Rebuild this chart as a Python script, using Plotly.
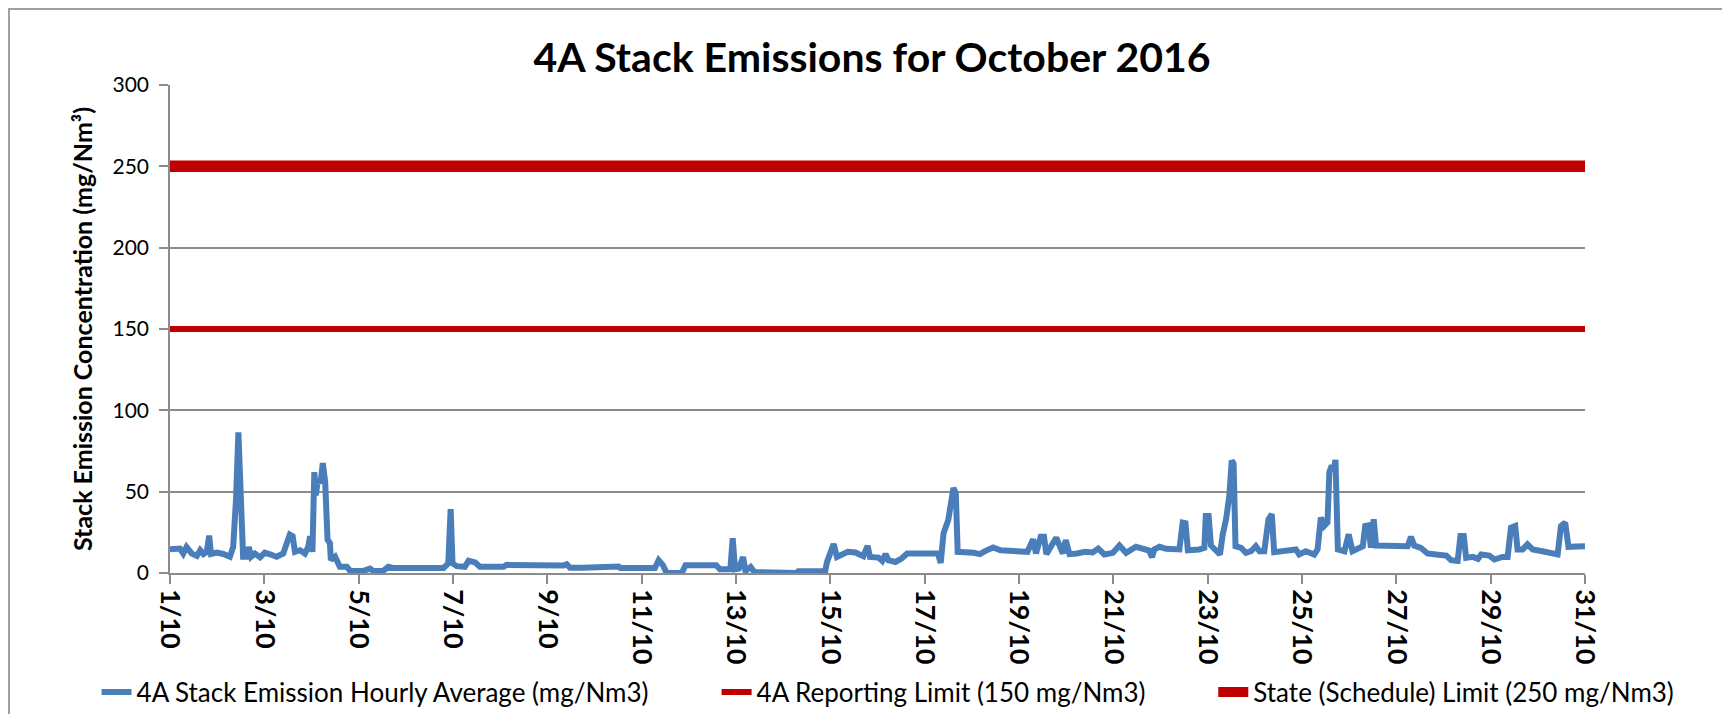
import datetime as dt
import plotly.graph_objects as go

# ---------------- data ----------------
start_date = dt.datetime(2016, 10, 1)

# time of each reading, in days after 1/10 00:00
day_offsets = [
    0.00, 0.21, 0.28, 0.35, 0.46, 0.57, 0.64, 0.71, 0.78, 0.83, 0.87, 0.99, 1.13, 1.27, 1.34,
    1.40, 1.45, 1.50, 1.55, 1.63, 1.67, 1.72, 1.80, 1.91, 2.01, 2.12, 2.26, 2.40, 2.49, 2.54,
    2.60, 2.65, 2.76, 2.86, 2.93, 2.97, 3.02, 3.06, 3.09, 3.14, 3.19, 3.24, 3.29, 3.34, 3.39,
    3.41, 3.50, 3.53, 3.60, 3.75, 3.82, 4.10, 4.24, 4.31, 4.52, 4.63, 4.73, 5.80, 5.90, 5.95,
    5.99, 6.08, 6.25, 6.33, 6.47, 6.57, 7.07, 7.14, 7.63, 7.70, 7.88, 7.95, 8.34, 8.41, 8.48,
    8.76, 9.51, 9.55, 10.28, 10.36, 10.45, 10.53, 10.85, 10.93, 11.58, 11.66, 11.88, 11.93,
    11.98, 12.06, 12.15, 12.20, 12.31, 12.39, 12.75, 12.91, 13.28, 13.32, 13.89, 13.93, 14.01,
    14.07, 14.14, 14.21, 14.37, 14.53, 14.70, 14.79, 14.84, 15.02, 15.10, 15.17, 15.23, 15.38,
    15.51, 15.63, 16.28, 16.34, 16.40, 16.50, 16.55, 16.61, 16.66, 16.70, 17.04, 17.17, 17.29,
    17.45, 17.61, 17.94, 18.18, 18.30, 18.36, 18.46, 18.53, 18.58, 18.70, 18.79, 18.87, 18.93,
    18.99, 19.07, 19.23, 19.40, 19.56, 19.68, 19.81, 19.99, 20.13, 20.27, 20.48, 20.62, 20.76,
    20.82, 20.87, 20.98, 21.12, 21.40, 21.47, 21.53, 21.58, 21.82, 21.93, 21.96, 22.02, 22.07,
    22.21, 22.26, 22.32, 22.39, 22.46, 22.51, 22.55, 22.59, 22.71, 22.81, 22.92, 23.02, 23.10,
    23.20, 23.29, 23.36, 23.41, 23.55, 23.73, 23.87, 23.94, 24.08, 24.26, 24.33, 24.40, 24.47,
    24.54, 24.58, 24.63, 24.67, 24.71, 24.76, 24.90, 24.99, 25.07, 25.18, 25.29, 25.34, 25.41,
    25.46, 25.52, 25.57, 25.78, 25.99, 26.24, 26.31, 26.38, 26.52, 26.66, 26.84, 27.06, 27.16,
    27.30, 27.36, 27.43, 27.48, 27.62, 27.73, 27.80, 27.97, 28.08, 28.25, 28.36, 28.43, 28.52,
    28.57, 28.68, 28.78, 28.89, 29.10, 29.28, 29.42, 29.49, 29.58, 29.65, 29.81, 30.00,
]

# 4A stack emission hourly average (mg/Nm3)
emission_values = [
    14.6, 15.0, 12.0, 16.0, 12.0, 10.5, 14.0, 11.7, 13.0, 23.0, 11.7, 12.5, 11.7, 10.0, 16.0,
    45.6, 86.4, 45.6, 10.0, 10.0, 16.0, 10.0, 12.0, 9.6, 12.5, 11.5, 10.0, 12.0, 18.4, 23.6,
    22.6, 13.0, 14.0, 12.0, 16.0, 22.6, 13.0, 62.0, 47.7, 58.0, 55.0, 67.6, 56.0, 20.5, 18.4,
    8.0, 10.0, 8.0, 3.8, 3.8, 1.3, 1.3, 2.7, 1.3, 1.3, 3.8, 3.1, 3.1, 5.9, 39.3,
    5.9, 4.2, 3.8, 7.5, 6.5, 3.8, 3.8, 5.0, 5.0, 4.2, 4.2, 5.0, 4.6, 5.4, 3.3,
    3.3, 4.0, 3.0, 3.0, 7.9, 4.8, 0.0, 0.0, 4.8, 4.8, 2.3, 2.3, 21.3,
    2.3, 2.7, 9.9, 1.2, 3.7, 0.6, 0.6, 0.0, 0.0, 1.0, 1.0, 6.8, 15.0,
    17.8, 9.9, 11.0, 13.0, 12.6, 10.3, 16.7, 9.9, 9.5, 7.4, 11.6, 7.9, 6.8,
    8.9, 12.0, 12.0, 6.2, 24.4, 32.6, 45.0, 52.3, 49.0, 13.0, 12.4, 11.6, 13.6,
    15.7, 14.0, 13.0, 13.0, 20.7, 12.0, 22.3, 22.3, 11.6, 18.2, 21.7, 16.1, 12.0,
    20.2, 11.6, 12.0, 13.0, 12.6, 15.0, 11.4, 12.4, 16.9, 12.4, 16.1, 14.5, 13.8,
    9.7, 14.5, 16.1, 14.9, 14.5, 31.0, 30.6, 14.0, 14.5, 15.5, 35.1, 35.1, 16.9,
    12.8, 11.4, 23.8, 33.0, 47.5, 69.2, 67.1, 16.5, 15.5, 12.4, 13.4, 16.5, 13.4,
    13.4, 33.0, 36.2, 12.8, 13.4, 13.4, 14.5, 11.4, 13.4, 11.4, 14.5, 34.1, 28.9,
    31.0, 62.0, 66.0, 63.0, 69.5, 14.5, 13.4, 23.8, 13.4, 15.5, 16.5, 28.9, 29.3,
    15.5, 33.0, 16.9, 16.9, 16.1, 16.5, 22.3, 16.9, 15.5, 12.0, 11.4, 10.7, 7.9,
    7.4, 22.7, 22.7, 9.3, 9.9, 8.7, 11.4, 10.7, 8.3, 9.9, 9.9, 27.9, 28.9,
    14.5, 14.5, 17.6, 14.5, 13.4, 12.4, 11.4, 28.9, 31.0, 16.1, 16.1, 16.5,
]

limit_dates = ["2016-10-01", "2016-10-31"]
reporting_limit = [150, 150]
state_limit = [250, 250]

tick_dates = ["2016-10-%02d" % d for d in range(1, 32, 2)]
tick_labels = ["%d/10" % d for d in range(1, 32, 2)]
y_ticks = [0, 50, 100, 150, 200, 250, 300]

series_names = [
    "4A Stack Emission Hourly Average (mg/Nm3)",
    "4A Reporting Limit (150 mg/Nm3)",
    "State (Schedule) Limit (250 mg/Nm3)",
]
title_text = "4A Stack Emissions for October 2016"
y_title = "Stack Emission Concentration (mg/Nm³)"

# ---------------- figure ----------------
emission_dates = [start_date + dt.timedelta(days=d) for d in day_offsets]

FONT = "Lato"
GRID = "#8c8c8c"
FIG_W, FIG_H = 1722, 706          # page body adds an 8 px offset
M_L, M_R, M_T, M_B = 162, 145, 77, 141
PLOT_W = FIG_W - M_L - M_R
PLOT_H = FIG_H - M_T - M_B

fig = go.Figure()
fig.add_trace(go.Scatter(
    x=emission_dates, y=emission_values, mode="lines", name=series_names[0],
    line=dict(color="#4a7ebb", width=6), legend="legend",
))
fig.add_trace(go.Scatter(
    x=limit_dates, y=reporting_limit, mode="lines", name=series_names[1],
    line=dict(color="#c00000", width=6), legend="legend2",
))
fig.add_trace(go.Scatter(
    x=limit_dates, y=state_limit, mode="lines", name=series_names[2],
    line=dict(color="#c00000", width=11.5), legend="legend3",
))

legend_common = dict(
    orientation="h", yanchor="middle", xanchor="left", y=-0.244,
    font=dict(family=FONT, size=26, color="#000000"),
    bgcolor="rgba(0,0,0,0)", borderwidth=0,
)

fig.update_layout(
    width=FIG_W, height=FIG_H, autosize=False,
    margin=dict(l=M_L, r=M_R, t=M_T, b=M_B, autoexpand=False),
    paper_bgcolor="#ffffff", plot_bgcolor="#ffffff",
    font=dict(family=FONT, color="#000000"),
    title=dict(
        text="<b>" + title_text + "</b>", x=864 / FIG_W, xanchor="center",
        y=1 - 50 / FIG_H, yanchor="middle",
        font=dict(family=FONT, size=41, color="#000000"),
    ),
    showlegend=True,
    legend=dict(legend_common, x=-0.0519),
    legend2=dict(legend_common, x=0.3863),
    legend3=dict(legend_common, x=0.7373),
    xaxis=dict(
        type="date", range=["2016-10-01", "2016-10-31"], automargin=False,
        tickmode="array", tickvals=tick_dates, ticktext=tick_labels,
        tickangle=90, tickfont=dict(family=FONT, size=27, color="#000000", weight="bold"),
        ticks="outside", ticklen=9, tickwidth=1.5, tickcolor=GRID,
        showline=True, linecolor=GRID, linewidth=1.5,
        showgrid=False, zeroline=False,
    ),
    yaxis=dict(
        range=[0, 300], tickmode="array", tickvals=y_ticks, automargin=False,
        tickfont=dict(family=FONT, size=21, color="#000000"),
        ticks="outside", ticklen=9, tickwidth=1.5, tickcolor=GRID,
        showline=True, linecolor=GRID, linewidth=1.5,
        showgrid=True, gridcolor=GRID, gridwidth=1.5, zeroline=False,
        ticklabelstandoff=6,
        title=dict(text=y_title, standoff=13,
                   font=dict(family=FONT, size=25, color="#000000", weight="bold")),
    ),
    shapes=[dict(
        type="rect", xref="paper", yref="paper",
        x0=(1 - M_L) / PLOT_W, x1=2.0, y0=-1.0, y1=(FIG_H - M_B - 1) / PLOT_H,
        line=dict(color="#a0a0a0", width=2), fillcolor="rgba(0,0,0,0)", layer="below",
    )],
)

fig.write_html("out.html")
